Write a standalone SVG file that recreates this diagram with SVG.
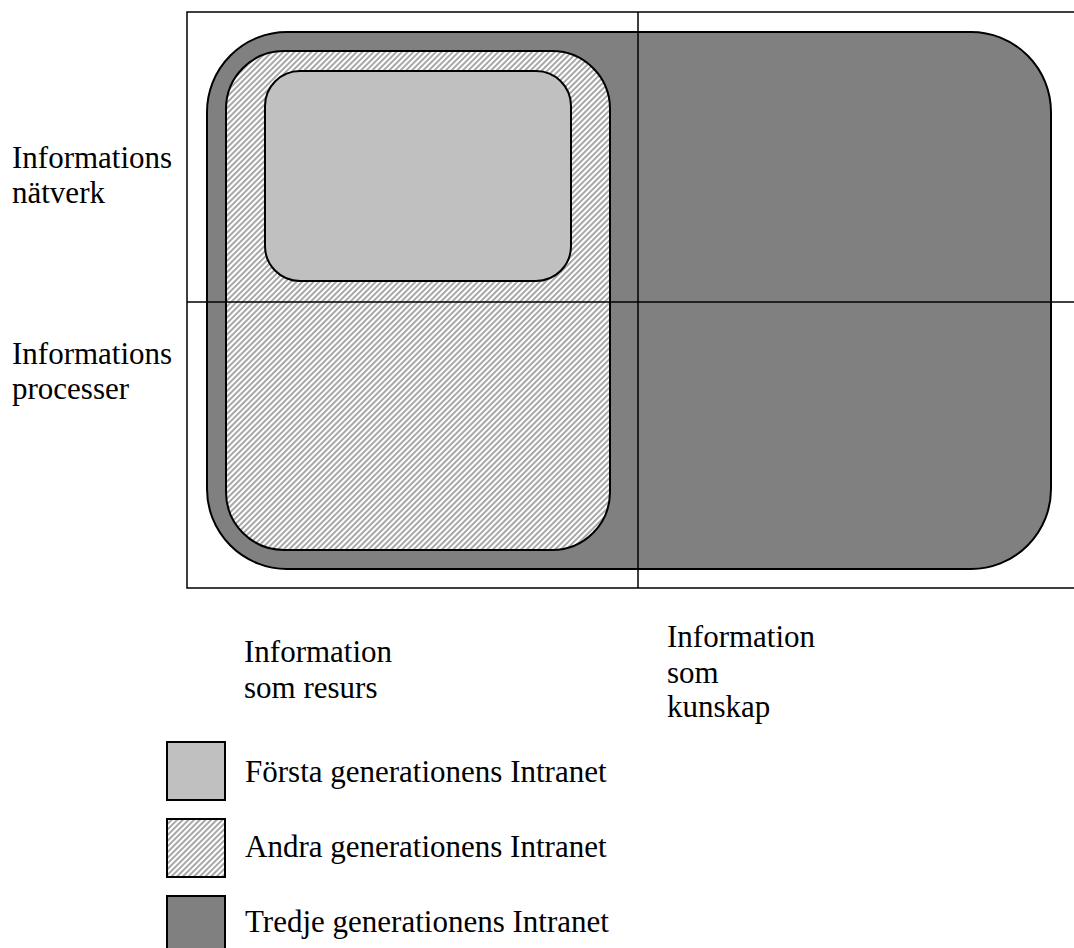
<svg xmlns="http://www.w3.org/2000/svg" width="1074" height="948" viewBox="0 0 1074 948">
<style>
text{font-family:"Liberation Serif","Times New Roman",serif;font-size:31px;fill:#000}
.ln{stroke:#000;stroke-width:1.5;fill:none}
.sh{stroke:#000;stroke-width:2}
</style>
<defs>
<pattern id="hatch" patternUnits="userSpaceOnUse" width="4" height="4" patternTransform="rotate(45)">
<rect width="4" height="4" fill="#ffffff"/>
<rect width="2" height="4" fill="#a8a8a8"/>
</pattern>
</defs>
<rect width="1074" height="948" fill="#fff"/>
<g id="gen3"><rect class="sh" x="207" y="32" width="844" height="537" rx="80" ry="80" fill="#808080"/></g>
<g id="gen2"><rect class="sh" x="226" y="51" width="384" height="499" rx="58" ry="58" fill="url(#hatch)"/></g>
<g id="gen1"><rect class="sh" x="265" y="71" width="306" height="210" rx="35" ry="35" fill="#c0c0c0"/></g>
<g id="grid">
<path class="ln" d="M1074 12 H187 V588 H1074"/>
<path class="ln" d="M638 12 V588"/>
<path class="ln" d="M187 302 H1074"/>
</g>
<g id="labels">
<text x="12" y="168">Informations</text>
<text x="12" y="203">nätverk</text>
<text x="12" y="364">Informations</text>
<text x="12" y="399">processer</text>
<text x="244" y="662">Information</text>
<text x="244" y="698">som resurs</text>
<text x="667" y="647">Information</text>
<text x="667" y="683">som</text>
<text x="667" y="717">kunskap</text>
</g>
<g id="legend1"><rect class="sh" x="167" y="742" width="58" height="58" fill="#c0c0c0"/><text x="245" y="782">Första generationens Intranet</text></g>
<g id="legend2"><rect class="sh" x="167" y="819" width="58" height="58" fill="url(#hatch)"/><text x="245" y="857">Andra generationens Intranet</text></g>
<g id="legend3"><rect class="sh" x="167" y="896" width="58" height="58" fill="#808080"/><text x="245" y="932">Tredje generationens Intranet</text></g>
</svg>
